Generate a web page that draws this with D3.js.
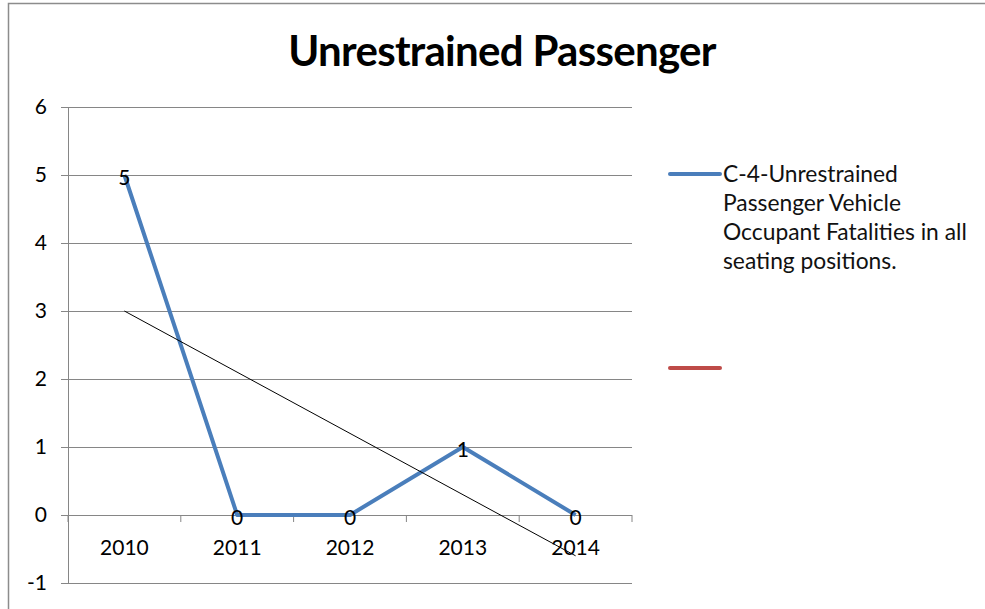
<!DOCTYPE html>
<html>
<head>
<meta charset="utf-8">
<script src="https://cdn.jsdelivr.net/npm/d3@7"></script>
<style>
  body { margin: 0; background: #fff; }
  svg { display: block; font-family: Lato, "Open Sans", sans-serif; }
</style>
</head>
<body>
<svg width="985" height="609"></svg>
<script>
'use strict';

const years = ["2010", "2011", "2012", "2013", "2014"];
const fatalities = [5, 0, 0, 1, 0];
// trendline endpoints (first and last category)
const trendValues = [3, -0.6];
const yTicks = [-1, 0, 1, 2, 3, 4, 5, 6];
const legendLines = ["C-4-Unrestrained", "Passenger Vehicle", "Occupant Fatalities in all", "seating positions."];

const svg = d3.select("svg");
const margin = {left: 68, right: 353, top: 107, bottom: 26};
const width = 985 - margin.left - margin.right;
const height = 609 - margin.top - margin.bottom;

// frame
svg.append("path")
	.attr("d", "M8.5,609 V3.5 H985")
	.attr("fill", "none")
	.attr("stroke", "#8c8c8c")
	.attr("stroke-width", 1.5);

svg.append("text")
	.attr("x", 502)
	.attr("y", 66)
	.attr("text-anchor", "middle")
	.attr("font-size", 42)
	.attr("font-weight", "bold")
	.attr("letter-spacing", -0.7)
	.text("Unrestrained Passenger");

const g = svg.append("g").attr("transform", `translate(${margin.left},${margin.top})`);

const x = d3.scaleBand().domain(years).range([0, width]);
const y = d3.scaleLinear().domain([-1, 6]).range([height, 0]);

// gridlines + y axis
const yAxis = g.append("g")
	.call(d3.axisLeft(y).tickValues(yTicks).tickFormat(d => String(d))
		.tickSize(-width).tickSizeOuter(0).tickPadding(21));
yAxis.select(".domain").attr("stroke", "#868686");
yAxis.selectAll(".tick line").attr("stroke", "#868686");
yAxis.selectAll(".tick").append("line")
	.attr("x1", -7).attr("x2", 0)
	.attr("stroke", "#868686");
yAxis.selectAll("text")
	.attr("font-size", 21)
	.attr("font-family", "Lato, sans-serif")
	.attr("fill", "#000");

// category axis sits on zero
const xAxis = g.append("g")
	.attr("transform", `translate(0,${y(0)})`)
	.call(d3.axisBottom(x).tickSize(0).tickPadding(25));
xAxis.select(".domain").remove();
xAxis.selectAll("text")
	.attr("font-size", 21)
	.attr("font-family", "Lato, sans-serif")
	.attr("fill", "#000");
xAxis.selectAll(".bound")
	.data(d3.range(years.length + 1))
	.enter().append("line")
	.attr("x1", i => i * x.bandwidth())
	.attr("x2", i => i * x.bandwidth())
	.attr("y1", 0).attr("y2", 7)
	.attr("stroke", "#868686");

const cx = d => x(d) + x.bandwidth() / 2;

// series line
g.append("path")
	.datum(fatalities)
	.attr("fill", "none")
	.attr("stroke", "#4a7ebb")
	.attr("stroke-width", 4)
	.attr("stroke-linejoin", "round")
	.attr("d", d3.line().x((d, i) => cx(years[i])).y(d => y(d)));

// linear trendline
g.append("line")
	.attr("x1", cx(years[0]))
	.attr("y1", y(trendValues[0]))
	.attr("x2", cx(years[years.length - 1]))
	.attr("y2", y(trendValues[1]))
	.attr("stroke", "#000")
	.attr("stroke-width", 1);

// data labels
g.selectAll(".lbl")
	.data(fatalities)
	.enter().append("text")
	.attr("x", (d, i) => cx(years[i]))
	.attr("y", d => y(d) + 10)
	.attr("text-anchor", "middle")
	.attr("font-size", 21)
	.text(d => d);

// legend
const legend = svg.append("g").attr("transform", "translate(670,174)");
legend.append("line")
	.attr("x1", 0).attr("x2", 50)
	.attr("stroke", "#4a7ebb").attr("stroke-width", 4).attr("stroke-linecap", "round");
legend.selectAll(".leg")
	.data(legendLines)
	.enter().append("text")
	.attr("x", 53)
	.attr("y", (d, i) => i * 29 + 8)
	.attr("font-size", 22.8)
	.attr("fill", "#111")
	.text(d => d);
legend.append("line")
	.attr("x1", 0).attr("x2", 50)
	.attr("y1", 194).attr("y2", 194)
	.attr("stroke", "#be4b48").attr("stroke-width", 4).attr("stroke-linecap", "round");
</script>
</body>
</html>
